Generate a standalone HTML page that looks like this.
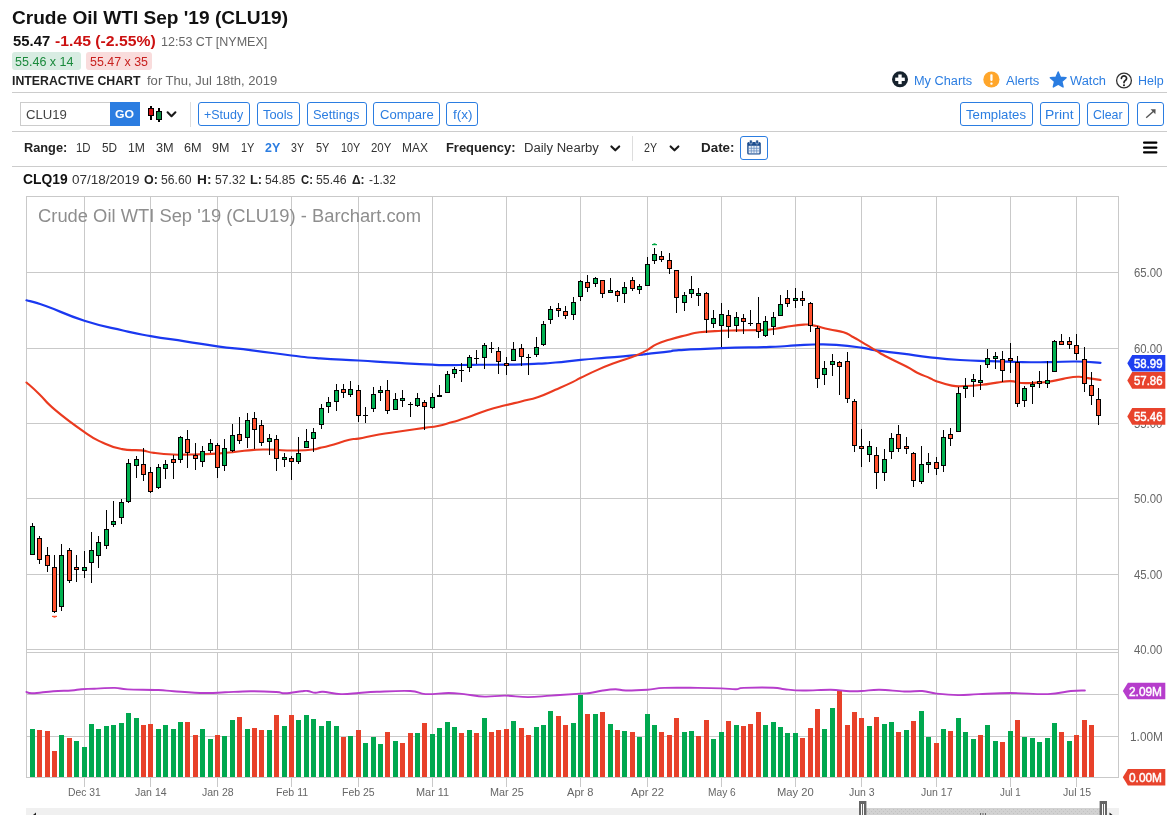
<!DOCTYPE html>
<html><head><meta charset="utf-8"><title>Crude Oil WTI Sep '19 (CLU19) Interactive Chart</title>
<style>
html,body{margin:0;padding:0;background:#fff}
body{width:1171px;height:815px;position:relative;overflow:hidden;font-family:"Liberation Sans", sans-serif;color:#222}
.t{position:absolute;white-space:nowrap;line-height:1;margin:0;padding:0;transform-origin:0 0}
.hr{position:absolute;left:12px;width:1155px;height:1px;background:#ccc}
.btn{position:absolute;box-sizing:border-box;border:1px solid #2b7de1;border-radius:3px;background:#fff;top:102px;height:24px}
.abs{position:absolute}
svg{position:absolute;left:0;top:0;overflow:visible}
#wrap{position:absolute;left:0;top:0;width:1171px;height:815px;will-change:transform}
</style></head><body><div id="wrap">
<div class="abs" style="left:12.2px;top:52.4px;width:68.6px;height:17.2px;background:#d8ece2;border-radius:3px"></div>
<div class="abs" style="left:86.1px;top:52.4px;width:65.6px;height:17.2px;background:#f9dcdc;border-radius:3px"></div>
<div class="hr" style="top:92px"></div>
<div class="hr" style="top:131px"></div>
<div class="hr" style="top:166px"></div>
<div class="abs" style="left:20px;top:102px;width:91px;height:24px;box-sizing:border-box;border:1px solid #ccc;background:#fff"></div>
<div class="abs" style="left:110px;top:102px;width:30px;height:24px;background:#2b7de1"></div>
<div class="abs" style="left:190px;top:102px;width:1px;height:25px;background:#ddd"></div>
<div class="btn" style="left:198px;width:52px"></div>
<div class="btn" style="left:257px;width:43px"></div>
<div class="btn" style="left:307px;width:60px"></div>
<div class="btn" style="left:373px;width:67px"></div>
<div class="btn" style="left:446px;width:32px"></div>
<div class="btn" style="left:960px;width:73px"></div>
<div class="btn" style="left:1040px;width:40px"></div>
<div class="btn" style="left:1087px;width:42px"></div>
<div class="btn" style="left:1137px;width:27px"></div>
<div class="abs" style="left:632px;top:136px;width:1px;height:25px;background:#ddd"></div>
<div class="btn" style="left:740px;top:136px;width:28px;height:24px"></div>
<svg width="1171" height="815" viewBox="0 0 1171 815">
<g shape-rendering="crispEdges">
<rect x="150" y="106" width="2" height="14" fill="#000"/><rect x="148" y="108" width="6" height="8" fill="#000"/><rect x="149" y="109" width="4" height="6" fill="#d41111"/>
<rect x="158" y="108" width="2" height="14" fill="#000"/><rect x="156" y="111" width="6" height="9" fill="#000"/><rect x="157" y="112" width="4" height="7" fill="#0a8a43"/>
</g>
<path d="M167.6 112.3 l3.9 3.9 l3.9 -3.9" fill="none" stroke="#1a1a1a" stroke-width="2.1" stroke-linecap="round" stroke-linejoin="round"/>
<path d="M611.4 146.4 l3.9 3.9 l3.9 -3.9" fill="none" stroke="#1a1a1a" stroke-width="2.1" stroke-linecap="round" stroke-linejoin="round"/>
<path d="M670.6 146.4 l3.9 3.9 l3.9 -3.9" fill="none" stroke="#1a1a1a" stroke-width="2.1" stroke-linecap="round" stroke-linejoin="round"/>
<circle cx="900" cy="79.3" r="8" fill="#16222d"/><rect x="895.2" y="77.6" width="9.6" height="3.4" fill="#fff"/><rect x="898.3" y="74.5" width="3.4" height="9.6" fill="#fff"/>
<circle cx="991.4" cy="79.5" r="8.1" fill="#ffa62b"/><rect x="990.3" y="74.3" width="2.3" height="6.6" rx="0.8" fill="#fff"/><rect x="990.3" y="82.4" width="2.3" height="2.4" rx="0.8" fill="#fff"/>
<polygon points="1058.20,72.00 1060.43,77.23 1066.09,77.74 1061.81,81.47 1063.08,87.01 1058.20,84.10 1053.32,87.01 1054.59,81.47 1050.31,77.74 1055.97,77.23" fill="#2b7de1" stroke="#2b7de1" stroke-width="1.4" stroke-linejoin="round"/>
<circle cx="1124" cy="80.5" r="7.4" fill="#fff" stroke="#333" stroke-width="1.3"/>
<path d="M1121.4 78.3 a2.6 2.5 0 1 1 3.9 2.2 c-1 .6 -1.3 1.1 -1.3 2.1" fill="none" stroke="#222" stroke-width="1.7" stroke-linecap="round"/><circle cx="1124" cy="85.2" r="1.05" fill="#222"/>
<path d="M1146.2 117.8 L1154.6 110.2" stroke="#555" stroke-width="1.4" fill="none"/><path d="M1150.6 109.3 L1155.6 109.2 L1155.4 114.2 Z" fill="#555"/>
<rect x="1143" y="141.5" width="14.4" height="2.3" rx="1" fill="#000"/>
<rect x="1143" y="146.4" width="14.4" height="2.3" rx="1" fill="#000"/>
<rect x="1143" y="151.3" width="14.4" height="2.3" rx="1" fill="#000"/>
<g><rect x="747.2" y="142" width="13.6" height="12.6" rx="1.6" fill="#1d4e8f"/><rect x="748.6" y="145.8" width="10.8" height="7.6" fill="#e9eff7"/><path d="M751.3 145.8v7.6M754 145.8v7.6M756.7 145.8v7.6M748.6 148.3h10.8M748.6 150.9h10.8" stroke="#5c86bd" stroke-width="0.7" fill="none"/><rect x="749.6" y="140" width="2.6" height="4" rx="1.1" fill="#1d4e8f" stroke="#fff" stroke-width="0.5"/><rect x="755.8" y="140" width="2.6" height="4" rx="1.1" fill="#1d4e8f" stroke="#fff" stroke-width="0.5"/></g>
<g shape-rendering="crispEdges" stroke="#c9c9c9" stroke-width="1" fill="none">
<path d="M84.5 196.5V649.5M84.5 652.5V786.5"/>
<path d="M150.5 196.5V649.5M150.5 652.5V786.5"/>
<path d="M217.5 196.5V649.5M217.5 652.5V786.5"/>
<path d="M291.5 196.5V649.5M291.5 652.5V786.5"/>
<path d="M358.5 196.5V649.5M358.5 652.5V786.5"/>
<path d="M432.5 196.5V649.5M432.5 652.5V786.5"/>
<path d="M506.5 196.5V649.5M506.5 652.5V786.5"/>
<path d="M580.5 196.5V649.5M580.5 652.5V786.5"/>
<path d="M647.5 196.5V649.5M647.5 652.5V786.5"/>
<path d="M721.5 196.5V649.5M721.5 652.5V786.5"/>
<path d="M795.5 196.5V649.5M795.5 652.5V786.5"/>
<path d="M861.5 196.5V649.5M861.5 652.5V786.5"/>
<path d="M936.5 196.5V649.5M936.5 652.5V786.5"/>
<path d="M1010.5 196.5V649.5M1010.5 652.5V786.5"/>
<path d="M1076.5 196.5V649.5M1076.5 652.5V786.5"/>
<path d="M26.5 272.5H1118.5"/>
<path d="M26.5 348.5H1118.5"/>
<path d="M26.5 423.5H1118.5"/>
<path d="M26.5 498.5H1118.5"/>
<path d="M26.5 574.5H1118.5"/>
<path d="M26.5 694.5H1118.5"/>
<path d="M26.5 736.5H1118.5"/>
<path d="M26.5 196.5H1118.5V649.5H26.5Z"/>
<path d="M26.5 652.5H1118.5V777.5H26.5Z"/>
<path d="M26.5 649.5V652.5M1118.5 649.5V652.5"/>
</g>
<g shape-rendering="crispEdges">
<rect x="30" y="729" width="5" height="48" fill="#00a84f"/>
<rect x="37" y="730" width="5" height="47" fill="#e8412a"/>
<rect x="45" y="731" width="5" height="46" fill="#e8412a"/>
<rect x="52" y="751" width="5" height="26" fill="#e8412a"/>
<rect x="59" y="735" width="5" height="42" fill="#00a84f"/>
<rect x="67" y="738" width="5" height="39" fill="#e8412a"/>
<rect x="74" y="741" width="5" height="36" fill="#00a84f"/>
<rect x="82" y="747" width="5" height="30" fill="#00a84f"/>
<rect x="89" y="724" width="5" height="53" fill="#00a84f"/>
<rect x="96" y="729" width="5" height="48" fill="#00a84f"/>
<rect x="104" y="726" width="5" height="51" fill="#00a84f"/>
<rect x="111" y="725" width="5" height="52" fill="#00a84f"/>
<rect x="119" y="723" width="5" height="54" fill="#00a84f"/>
<rect x="126" y="713" width="5" height="64" fill="#00a84f"/>
<rect x="134" y="718" width="5" height="59" fill="#00a84f"/>
<rect x="141" y="725" width="5" height="52" fill="#e8412a"/>
<rect x="148" y="724" width="5" height="53" fill="#e8412a"/>
<rect x="156" y="729" width="5" height="48" fill="#00a84f"/>
<rect x="163" y="725" width="5" height="52" fill="#00a84f"/>
<rect x="171" y="729" width="5" height="48" fill="#00a84f"/>
<rect x="178" y="722" width="5" height="55" fill="#00a84f"/>
<rect x="185" y="722" width="5" height="55" fill="#e8412a"/>
<rect x="193" y="735" width="5" height="42" fill="#e8412a"/>
<rect x="200" y="729" width="5" height="48" fill="#00a84f"/>
<rect x="208" y="739" width="5" height="38" fill="#00a84f"/>
<rect x="215" y="735" width="5" height="42" fill="#e8412a"/>
<rect x="222" y="736" width="5" height="41" fill="#00a84f"/>
<rect x="230" y="720" width="5" height="57" fill="#00a84f"/>
<rect x="237" y="717" width="5" height="60" fill="#e8412a"/>
<rect x="245" y="729" width="5" height="48" fill="#00a84f"/>
<rect x="252" y="728" width="5" height="49" fill="#e8412a"/>
<rect x="259" y="730" width="5" height="47" fill="#e8412a"/>
<rect x="267" y="730" width="5" height="47" fill="#00a84f"/>
<rect x="274" y="715" width="5" height="62" fill="#e8412a"/>
<rect x="282" y="726" width="5" height="51" fill="#00a84f"/>
<rect x="289" y="715" width="5" height="62" fill="#e8412a"/>
<rect x="296" y="720" width="5" height="57" fill="#00a84f"/>
<rect x="304" y="715" width="5" height="62" fill="#00a84f"/>
<rect x="311" y="719" width="5" height="58" fill="#00a84f"/>
<rect x="319" y="726" width="5" height="51" fill="#00a84f"/>
<rect x="326" y="721" width="5" height="56" fill="#00a84f"/>
<rect x="334" y="726" width="5" height="51" fill="#00a84f"/>
<rect x="341" y="737" width="5" height="40" fill="#e8412a"/>
<rect x="348" y="736" width="5" height="41" fill="#00a84f"/>
<rect x="356" y="730" width="5" height="47" fill="#e8412a"/>
<rect x="363" y="743" width="5" height="34" fill="#00a84f"/>
<rect x="371" y="737" width="5" height="40" fill="#00a84f"/>
<rect x="378" y="744" width="5" height="33" fill="#00a84f"/>
<rect x="385" y="732" width="5" height="45" fill="#e8412a"/>
<rect x="393" y="741" width="5" height="36" fill="#00a84f"/>
<rect x="400" y="743" width="5" height="34" fill="#e8412a"/>
<rect x="408" y="733" width="5" height="44" fill="#e8412a"/>
<rect x="415" y="733" width="5" height="44" fill="#00a84f"/>
<rect x="422" y="723" width="5" height="54" fill="#e8412a"/>
<rect x="430" y="734" width="5" height="43" fill="#00a84f"/>
<rect x="437" y="728" width="5" height="49" fill="#00a84f"/>
<rect x="445" y="722" width="5" height="55" fill="#00a84f"/>
<rect x="452" y="727" width="5" height="50" fill="#00a84f"/>
<rect x="459" y="733" width="5" height="44" fill="#e8412a"/>
<rect x="467" y="730" width="5" height="47" fill="#00a84f"/>
<rect x="474" y="733" width="5" height="44" fill="#e8412a"/>
<rect x="482" y="718" width="5" height="59" fill="#00a84f"/>
<rect x="489" y="732" width="5" height="45" fill="#e8412a"/>
<rect x="496" y="730" width="5" height="47" fill="#e8412a"/>
<rect x="504" y="729" width="5" height="48" fill="#e8412a"/>
<rect x="511" y="721" width="5" height="56" fill="#00a84f"/>
<rect x="519" y="728" width="5" height="49" fill="#e8412a"/>
<rect x="526" y="735" width="5" height="42" fill="#e8412a"/>
<rect x="534" y="727" width="5" height="50" fill="#00a84f"/>
<rect x="541" y="725" width="5" height="52" fill="#00a84f"/>
<rect x="548" y="711" width="5" height="66" fill="#00a84f"/>
<rect x="556" y="716" width="5" height="61" fill="#e8412a"/>
<rect x="563" y="725" width="5" height="52" fill="#e8412a"/>
<rect x="571" y="723" width="5" height="54" fill="#00a84f"/>
<rect x="578" y="695" width="5" height="82" fill="#00a84f"/>
<rect x="585" y="714" width="5" height="63" fill="#e8412a"/>
<rect x="593" y="714" width="5" height="63" fill="#00a84f"/>
<rect x="600" y="712" width="5" height="65" fill="#e8412a"/>
<rect x="608" y="724" width="5" height="53" fill="#00a84f"/>
<rect x="615" y="730" width="5" height="47" fill="#e8412a"/>
<rect x="622" y="731" width="5" height="46" fill="#00a84f"/>
<rect x="630" y="732" width="5" height="45" fill="#e8412a"/>
<rect x="637" y="737" width="5" height="40" fill="#00a84f"/>
<rect x="645" y="714" width="5" height="63" fill="#00a84f"/>
<rect x="652" y="725" width="5" height="52" fill="#00a84f"/>
<rect x="659" y="732" width="5" height="45" fill="#e8412a"/>
<rect x="667" y="735" width="5" height="42" fill="#e8412a"/>
<rect x="674" y="718" width="5" height="59" fill="#e8412a"/>
<rect x="682" y="732" width="5" height="45" fill="#00a84f"/>
<rect x="689" y="731" width="5" height="46" fill="#00a84f"/>
<rect x="696" y="736" width="5" height="41" fill="#e8412a"/>
<rect x="704" y="720" width="5" height="57" fill="#e8412a"/>
<rect x="711" y="739" width="5" height="38" fill="#00a84f"/>
<rect x="719" y="732" width="5" height="45" fill="#00a84f"/>
<rect x="726" y="721" width="5" height="56" fill="#e8412a"/>
<rect x="734" y="725" width="5" height="52" fill="#00a84f"/>
<rect x="741" y="726" width="5" height="51" fill="#e8412a"/>
<rect x="748" y="724" width="5" height="53" fill="#e8412a"/>
<rect x="756" y="712" width="5" height="65" fill="#e8412a"/>
<rect x="763" y="725" width="5" height="52" fill="#00a84f"/>
<rect x="771" y="722" width="5" height="55" fill="#00a84f"/>
<rect x="778" y="727" width="5" height="50" fill="#00a84f"/>
<rect x="785" y="733" width="5" height="44" fill="#00a84f"/>
<rect x="793" y="733" width="5" height="44" fill="#00a84f"/>
<rect x="800" y="738" width="5" height="39" fill="#e8412a"/>
<rect x="808" y="728" width="5" height="49" fill="#e8412a"/>
<rect x="815" y="709" width="5" height="68" fill="#e8412a"/>
<rect x="822" y="729" width="5" height="48" fill="#00a84f"/>
<rect x="830" y="708" width="5" height="69" fill="#00a84f"/>
<rect x="837" y="691" width="5" height="86" fill="#e8412a"/>
<rect x="845" y="725" width="5" height="52" fill="#e8412a"/>
<rect x="852" y="712" width="5" height="65" fill="#e8412a"/>
<rect x="859" y="718" width="5" height="59" fill="#e8412a"/>
<rect x="867" y="726" width="5" height="51" fill="#00a84f"/>
<rect x="874" y="717" width="5" height="60" fill="#e8412a"/>
<rect x="882" y="724" width="5" height="53" fill="#00a84f"/>
<rect x="889" y="722" width="5" height="55" fill="#00a84f"/>
<rect x="896" y="732" width="5" height="45" fill="#e8412a"/>
<rect x="904" y="730" width="5" height="47" fill="#00a84f"/>
<rect x="911" y="721" width="5" height="56" fill="#e8412a"/>
<rect x="919" y="711" width="5" height="66" fill="#00a84f"/>
<rect x="926" y="737" width="5" height="40" fill="#00a84f"/>
<rect x="934" y="743" width="5" height="34" fill="#e8412a"/>
<rect x="941" y="729" width="5" height="48" fill="#00a84f"/>
<rect x="948" y="731" width="5" height="46" fill="#e8412a"/>
<rect x="956" y="718" width="5" height="59" fill="#00a84f"/>
<rect x="963" y="732" width="5" height="45" fill="#00a84f"/>
<rect x="971" y="739" width="5" height="38" fill="#00a84f"/>
<rect x="978" y="735" width="5" height="42" fill="#e8412a"/>
<rect x="985" y="725" width="5" height="52" fill="#00a84f"/>
<rect x="993" y="741" width="5" height="36" fill="#00a84f"/>
<rect x="1000" y="742" width="5" height="35" fill="#e8412a"/>
<rect x="1008" y="731" width="5" height="46" fill="#00a84f"/>
<rect x="1015" y="720" width="5" height="57" fill="#e8412a"/>
<rect x="1022" y="737" width="5" height="40" fill="#00a84f"/>
<rect x="1030" y="738" width="5" height="39" fill="#00a84f"/>
<rect x="1037" y="742" width="5" height="35" fill="#00a84f"/>
<rect x="1045" y="738" width="5" height="39" fill="#00a84f"/>
<rect x="1052" y="723" width="5" height="54" fill="#00a84f"/>
<rect x="1059" y="732" width="5" height="45" fill="#e8412a"/>
<rect x="1067" y="741" width="5" height="36" fill="#00a84f"/>
<rect x="1074" y="735" width="5" height="42" fill="#e8412a"/>
<rect x="1082" y="720" width="5" height="57" fill="#e8412a"/>
<rect x="1089" y="725" width="5" height="52" fill="#e8412a"/>
</g>
<path d="M26.4 692.0C27.7 692.3 27.4 693.5 32.8 693.3C38.2 693.1 45.6 691.8 53.3 691.2C61.0 690.6 65.6 690.9 71.2 690.5C76.8 690.1 76.9 689.6 81.5 689.2C86.1 688.8 87.6 689.0 94.3 688.7C101.0 688.4 108.1 687.8 114.8 687.9C121.5 688.0 118.9 689.0 127.6 689.4C136.3 689.8 149.2 689.6 158.4 690.0C167.6 690.4 164.5 690.6 173.7 691.2C182.9 691.8 194.2 692.8 204.5 693.0C214.8 693.2 215.8 692.7 225.0 692.3C234.2 691.9 240.4 691.3 250.6 691.2C260.8 691.1 269.3 691.6 276.2 692.0C283.1 692.4 280.1 693.5 285.2 693.3C290.3 693.1 297.3 691.7 301.8 691.2C306.3 690.7 305.0 690.7 307.7 691.0C310.4 691.3 312.3 692.6 315.4 692.8C318.5 693.0 317.9 691.5 323.0 691.8C328.1 692.1 333.8 693.9 341.0 694.1C348.2 694.3 351.7 693.5 358.9 693.0C366.1 692.5 366.6 692.2 376.9 691.8C387.2 691.4 400.5 690.5 410.2 691.0C419.9 691.5 417.8 693.7 425.5 694.1C433.2 694.5 440.9 693.0 448.6 693.0C456.3 693.0 456.8 693.4 464.0 694.1C471.2 694.8 476.3 696.3 484.5 696.6C492.7 696.9 496.3 695.5 505.0 695.6C513.7 695.7 518.8 697.1 528.0 697.1C537.2 697.1 540.6 696.3 551.1 695.6C561.6 694.9 572.7 694.1 580.5 693.6C588.3 693.1 585.5 693.6 590.0 693.0C594.5 692.4 597.7 691.3 602.8 690.5C607.9 689.7 611.0 689.2 615.6 689.2C620.2 689.2 619.5 690.4 625.9 690.5C632.3 690.6 639.7 690.2 647.4 689.7C655.1 689.2 654.3 688.3 664.3 687.9C674.3 687.5 686.2 687.8 697.6 687.9C709.0 688.0 713.7 688.1 721.4 688.4C729.1 688.7 731.5 689.3 736.0 689.2C740.5 689.1 736.3 688.2 743.7 687.9C751.1 687.6 765.0 687.4 773.2 687.7C781.4 688.0 778.8 688.6 784.7 689.2C790.6 689.8 793.5 690.4 802.7 690.5C811.9 690.6 822.1 689.6 830.8 689.7C839.5 689.8 840.0 690.7 846.2 691.0C852.4 691.3 854.9 691.3 861.6 691.0C868.3 690.7 871.0 689.6 879.5 689.7C888.0 689.8 895.8 691.2 904.3 691.5C912.8 691.8 915.7 690.6 922.2 691.0C928.7 691.4 929.4 692.8 936.6 693.6C943.8 694.4 949.7 695.0 958.1 695.1C966.5 695.2 968.1 694.5 978.6 694.1C989.1 693.7 996.8 693.0 1010.6 693.0C1024.4 693.0 1035.8 694.5 1047.8 694.1C1059.8 693.7 1063.4 691.7 1070.8 691.0C1078.2 690.3 1082.1 690.6 1084.9 690.5" fill="none" stroke="#b63dcc" stroke-width="1.9" stroke-linejoin="round" stroke-linecap="round"/>
<path d="M26.5 300.3C31.6 301.8 30.4 300.6 45.8 306.0C61.2 311.4 63.8 314.2 84.4 320.7C105.0 327.2 105.3 326.4 123.0 330.5C140.7 334.6 134.2 333.2 150.7 336.1C167.2 339.0 167.2 338.6 185.0 341.3C202.8 344.0 199.5 344.0 217.4 346.4C235.3 348.8 232.3 347.9 252.0 350.3C271.7 352.7 273.3 353.3 291.4 355.5C309.5 357.7 302.1 357.1 320.0 358.4C337.9 359.7 339.0 359.4 358.6 360.5C378.2 361.6 373.9 361.6 393.6 362.7C413.3 363.8 416.9 364.1 432.6 364.7C448.3 365.3 442.5 365.1 452.5 365.1C462.5 365.1 455.6 364.9 470.0 364.8C484.4 364.7 488.2 364.9 506.4 364.6C524.6 364.3 525.2 364.2 538.3 363.6C551.4 363.0 544.1 363.5 555.4 362.5C566.7 361.5 567.0 361.2 580.7 359.9C594.4 358.6 591.7 358.9 606.6 357.6C621.5 356.3 625.6 356.2 636.5 355.2C647.4 354.2 638.7 354.8 647.6 353.8C656.5 352.8 661.7 352.3 670.0 351.3C678.3 350.3 665.1 351.0 678.9 350.2C692.7 349.4 697.3 349.1 721.6 348.2C745.9 347.3 750.3 347.6 770.0 346.9C789.7 346.2 783.8 346.0 795.6 345.4C807.4 344.8 803.4 344.6 814.2 344.5C825.0 344.4 823.6 344.0 836.2 344.9C848.8 345.8 850.9 346.2 861.5 347.7C872.1 349.2 865.1 348.8 876.0 350.4C886.9 352.0 888.1 351.8 902.5 353.6C916.9 355.4 914.7 355.6 930.0 357.3C945.3 359.0 944.2 359.0 960.0 360.0C975.8 361.0 973.7 360.7 989.4 361.2C1005.1 361.7 1003.2 361.7 1018.9 362.0C1034.6 362.3 1032.9 362.3 1048.3 362.2C1063.7 362.1 1062.7 361.3 1076.6 361.5C1090.5 361.7 1094.1 362.5 1100.5 362.8" fill="none" stroke="#1a38f0" stroke-width="2.2" stroke-linejoin="round" stroke-linecap="round"/>
<path d="M26.5 382.5C29.9 385.5 31.5 386.6 39.1 393.9C46.7 401.2 43.2 399.8 55.1 409.9C67.0 420.0 71.1 422.9 83.8 431.6C96.5 440.3 92.7 438.0 102.9 442.7C113.1 447.4 111.9 447.0 122.1 449.1C132.3 451.2 132.7 449.4 141.2 450.4C149.7 451.4 145.5 451.8 154.0 452.9C162.5 454.0 162.9 454.1 173.1 454.5C183.3 454.9 180.5 454.7 192.2 454.5C203.9 454.3 205.4 454.3 217.1 453.6C228.8 452.9 226.4 452.7 236.2 451.7C246.0 450.7 245.7 450.5 253.9 449.9C262.1 449.3 259.6 449.4 267.1 449.5C274.6 449.6 274.0 449.9 281.9 450.2C289.8 450.5 288.4 450.7 296.6 450.5C304.8 450.3 306.6 450.2 312.8 449.5C319.0 448.8 315.4 448.9 320.0 447.9C324.6 446.9 322.2 447.8 330.0 445.6C337.8 443.4 341.8 441.6 349.4 439.7C357.0 437.8 350.7 440.0 358.6 438.6C366.5 437.2 367.6 436.4 378.9 434.5C390.2 432.6 388.8 433.1 401.0 431.3C413.2 429.5 414.7 429.3 424.5 427.9C434.3 426.5 430.3 427.6 437.8 426.0C445.3 424.4 444.7 424.2 452.5 422.0C460.3 419.8 458.0 420.7 467.2 417.6C476.4 414.5 476.6 413.6 487.1 410.3C497.6 407.0 497.3 407.5 506.4 405.1C515.5 402.7 512.7 403.6 521.2 401.4C529.7 399.2 529.2 400.1 538.3 397.0C547.4 393.9 546.3 393.8 555.4 389.8C564.5 385.8 565.8 385.3 572.5 382.1C579.2 378.9 573.9 381.1 580.7 377.8C587.5 374.5 588.9 373.6 598.1 369.6C607.3 365.6 605.0 366.6 615.2 362.8C625.4 359.0 627.9 358.8 636.5 355.3C645.1 351.8 642.1 352.8 647.5 349.8C652.9 346.8 650.8 346.9 656.8 344.1C662.8 341.3 662.2 341.8 670.0 339.4C677.8 337.0 678.3 337.1 686.2 335.2C694.1 333.3 690.1 333.5 699.5 332.3C708.9 331.1 711.4 331.3 721.6 330.8C731.8 330.3 728.4 330.6 737.8 330.4C747.2 330.2 748.3 330.3 756.9 330.1C765.5 329.9 762.6 330.3 770.0 329.5C777.4 328.7 775.7 328.4 784.7 327.1C793.7 325.8 796.0 325.0 803.9 324.6C811.8 324.2 807.5 324.3 814.2 325.6C820.9 326.9 821.1 327.5 828.9 329.3C836.7 331.1 837.3 330.3 843.6 332.3C849.9 334.3 847.6 334.2 852.4 336.7C857.2 339.2 855.2 338.1 861.5 341.8C867.8 345.5 869.0 346.6 876.0 350.7C883.0 354.8 879.5 353.0 887.7 357.3C895.9 361.6 899.0 362.7 906.9 366.8C914.8 370.9 911.0 369.7 917.2 372.7C923.4 375.7 925.1 376.0 930.0 378.2C934.9 380.4 929.9 378.9 935.7 380.9C941.5 382.9 944.1 384.2 951.9 385.6C959.7 387.0 957.1 386.2 965.1 386.0C973.1 385.8 973.5 385.7 982.0 384.8C990.5 383.9 989.2 383.6 996.8 382.6C1004.4 381.6 1003.8 381.0 1010.5 381.1C1017.2 381.2 1014.9 382.6 1021.8 383.0C1028.7 383.4 1029.4 382.9 1036.5 382.6C1043.6 382.3 1041.2 382.8 1048.3 381.8C1055.4 380.8 1055.2 380.3 1063.0 378.9C1070.8 377.5 1071.0 376.9 1077.7 376.7C1084.4 376.5 1081.9 377.2 1088.0 378.1C1094.1 379.0 1097.2 379.5 1100.5 380.0" fill="none" stroke="#ea3a1f" stroke-width="2.1" stroke-linejoin="round" stroke-linecap="round"/>
<g shape-rendering="crispEdges">
<rect x="32" y="523" width="1" height="32" fill="#000"/>
<rect x="30" y="526" width="5" height="29" fill="#000"/>
<rect x="31" y="527" width="3" height="27" fill="#00b050"/>
<rect x="39" y="536" width="1" height="28" fill="#000"/>
<rect x="37" y="538" width="5" height="22" fill="#000"/>
<rect x="38" y="539" width="3" height="20" fill="#ff502d"/>
<rect x="47" y="547" width="1" height="25" fill="#000"/>
<rect x="45" y="555" width="5" height="11" fill="#000"/>
<rect x="46" y="556" width="3" height="9" fill="#ff502d"/>
<rect x="54" y="555" width="1" height="58" fill="#000"/>
<rect x="52" y="567" width="5" height="45" fill="#000"/>
<rect x="53" y="568" width="3" height="43" fill="#ff502d"/>
<rect x="61" y="544" width="1" height="67" fill="#000"/>
<rect x="59" y="555" width="5" height="52" fill="#000"/>
<rect x="60" y="556" width="3" height="50" fill="#00b050"/>
<rect x="69" y="548" width="1" height="35" fill="#000"/>
<rect x="67" y="550" width="5" height="31" fill="#000"/>
<rect x="68" y="551" width="3" height="29" fill="#ff502d"/>
<rect x="76" y="555" width="1" height="27" fill="#000"/>
<rect x="74" y="567" width="5" height="3" fill="#000"/>
<rect x="75" y="568" width="3" height="1" fill="#ff502d"/>
<rect x="84" y="551" width="1" height="27" fill="#000"/>
<rect x="82" y="567" width="5" height="4" fill="#000"/>
<rect x="83" y="568" width="3" height="2" fill="#00b050"/>
<rect x="91" y="532" width="1" height="51" fill="#000"/>
<rect x="89" y="550" width="5" height="13" fill="#000"/>
<rect x="90" y="551" width="3" height="11" fill="#00b050"/>
<rect x="98" y="536" width="1" height="32" fill="#000"/>
<rect x="96" y="542" width="5" height="14" fill="#000"/>
<rect x="97" y="543" width="3" height="12" fill="#00b050"/>
<rect x="106" y="510" width="1" height="39" fill="#000"/>
<rect x="104" y="529" width="5" height="17" fill="#000"/>
<rect x="105" y="530" width="3" height="15" fill="#00b050"/>
<rect x="113" y="501" width="1" height="26" fill="#000"/>
<rect x="111" y="521" width="5" height="4" fill="#000"/>
<rect x="112" y="522" width="3" height="2" fill="#00b050"/>
<rect x="121" y="499" width="1" height="25" fill="#000"/>
<rect x="119" y="502" width="5" height="16" fill="#000"/>
<rect x="120" y="503" width="3" height="14" fill="#00b050"/>
<rect x="128" y="459" width="1" height="44" fill="#000"/>
<rect x="126" y="463" width="5" height="39" fill="#000"/>
<rect x="127" y="464" width="3" height="37" fill="#00b050"/>
<rect x="136" y="456" width="1" height="22" fill="#000"/>
<rect x="134" y="459" width="5" height="7" fill="#000"/>
<rect x="135" y="460" width="3" height="5" fill="#00b050"/>
<rect x="143" y="448" width="1" height="33" fill="#000"/>
<rect x="141" y="464" width="5" height="11" fill="#000"/>
<rect x="142" y="465" width="3" height="9" fill="#ff502d"/>
<rect x="150" y="467" width="1" height="26" fill="#000"/>
<rect x="148" y="472" width="5" height="20" fill="#000"/>
<rect x="149" y="473" width="3" height="18" fill="#ff502d"/>
<rect x="158" y="464" width="1" height="25" fill="#000"/>
<rect x="156" y="467" width="5" height="21" fill="#000"/>
<rect x="157" y="468" width="3" height="19" fill="#00b050"/>
<rect x="165" y="460" width="1" height="19" fill="#000"/>
<rect x="163" y="464" width="5" height="5" fill="#000"/>
<rect x="164" y="465" width="3" height="3" fill="#00b050"/>
<rect x="173" y="455" width="1" height="24" fill="#000"/>
<rect x="171" y="459" width="5" height="4" fill="#000"/>
<rect x="172" y="460" width="3" height="2" fill="#ff502d"/>
<rect x="180" y="436" width="1" height="27" fill="#000"/>
<rect x="178" y="437" width="5" height="23" fill="#000"/>
<rect x="179" y="438" width="3" height="21" fill="#00b050"/>
<rect x="187" y="430" width="1" height="38" fill="#000"/>
<rect x="185" y="439" width="5" height="14" fill="#000"/>
<rect x="186" y="440" width="3" height="12" fill="#ff502d"/>
<rect x="195" y="443" width="1" height="27" fill="#000"/>
<rect x="193" y="455" width="5" height="4" fill="#000"/>
<rect x="194" y="456" width="3" height="2" fill="#ff502d"/>
<rect x="202" y="446" width="1" height="21" fill="#000"/>
<rect x="200" y="451" width="5" height="11" fill="#000"/>
<rect x="201" y="452" width="3" height="9" fill="#00b050"/>
<rect x="210" y="439" width="1" height="14" fill="#000"/>
<rect x="208" y="443" width="5" height="8" fill="#000"/>
<rect x="209" y="444" width="3" height="6" fill="#00b050"/>
<rect x="217" y="443" width="1" height="35" fill="#000"/>
<rect x="215" y="445" width="5" height="23" fill="#000"/>
<rect x="216" y="446" width="3" height="21" fill="#ff502d"/>
<rect x="224" y="439" width="1" height="32" fill="#000"/>
<rect x="222" y="448" width="5" height="18" fill="#000"/>
<rect x="223" y="449" width="3" height="16" fill="#00b050"/>
<rect x="232" y="424" width="1" height="28" fill="#000"/>
<rect x="230" y="435" width="5" height="16" fill="#000"/>
<rect x="231" y="436" width="3" height="14" fill="#00b050"/>
<rect x="239" y="417" width="1" height="27" fill="#000"/>
<rect x="237" y="434" width="5" height="7" fill="#000"/>
<rect x="238" y="435" width="3" height="5" fill="#ff502d"/>
<rect x="247" y="413" width="1" height="35" fill="#000"/>
<rect x="245" y="420" width="5" height="18" fill="#000"/>
<rect x="246" y="421" width="3" height="16" fill="#00b050"/>
<rect x="254" y="412" width="1" height="37" fill="#000"/>
<rect x="252" y="418" width="5" height="12" fill="#000"/>
<rect x="253" y="419" width="3" height="10" fill="#ff502d"/>
<rect x="261" y="420" width="1" height="26" fill="#000"/>
<rect x="259" y="425" width="5" height="18" fill="#000"/>
<rect x="260" y="426" width="3" height="16" fill="#ff502d"/>
<rect x="269" y="434" width="1" height="21" fill="#000"/>
<rect x="267" y="438" width="5" height="4" fill="#000"/>
<rect x="268" y="439" width="3" height="2" fill="#00b050"/>
<rect x="276" y="435" width="1" height="36" fill="#000"/>
<rect x="274" y="439" width="5" height="20" fill="#000"/>
<rect x="275" y="440" width="3" height="18" fill="#ff502d"/>
<rect x="284" y="453" width="1" height="14" fill="#000"/>
<rect x="282" y="457" width="5" height="3" fill="#000"/>
<rect x="283" y="458" width="3" height="1" fill="#00b050"/>
<rect x="291" y="456" width="1" height="24" fill="#000"/>
<rect x="289" y="458" width="5" height="4" fill="#000"/>
<rect x="290" y="459" width="3" height="2" fill="#ff502d"/>
<rect x="298" y="437" width="1" height="27" fill="#000"/>
<rect x="296" y="453" width="5" height="9" fill="#000"/>
<rect x="297" y="454" width="3" height="7" fill="#00b050"/>
<rect x="306" y="429" width="1" height="19" fill="#000"/>
<rect x="304" y="441" width="5" height="7" fill="#000"/>
<rect x="305" y="442" width="3" height="5" fill="#00b050"/>
<rect x="313" y="428" width="1" height="24" fill="#000"/>
<rect x="311" y="432" width="5" height="7" fill="#000"/>
<rect x="312" y="433" width="3" height="5" fill="#00b050"/>
<rect x="321" y="404" width="1" height="25" fill="#000"/>
<rect x="319" y="408" width="5" height="17" fill="#000"/>
<rect x="320" y="409" width="3" height="15" fill="#00b050"/>
<rect x="328" y="397" width="1" height="16" fill="#000"/>
<rect x="326" y="402" width="5" height="5" fill="#000"/>
<rect x="327" y="403" width="3" height="3" fill="#00b050"/>
<rect x="336" y="384" width="1" height="27" fill="#000"/>
<rect x="334" y="390" width="5" height="12" fill="#000"/>
<rect x="335" y="391" width="3" height="10" fill="#00b050"/>
<rect x="343" y="384" width="1" height="14" fill="#000"/>
<rect x="341" y="389" width="5" height="4" fill="#000"/>
<rect x="342" y="390" width="3" height="2" fill="#ff502d"/>
<rect x="350" y="381" width="1" height="16" fill="#000"/>
<rect x="348" y="389" width="5" height="6" fill="#000"/>
<rect x="349" y="390" width="3" height="4" fill="#00b050"/>
<rect x="358" y="385" width="1" height="37" fill="#000"/>
<rect x="356" y="390" width="5" height="26" fill="#000"/>
<rect x="357" y="391" width="3" height="24" fill="#ff502d"/>
<rect x="365" y="407" width="1" height="16" fill="#000"/>
<rect x="363" y="415" width="5" height="1" fill="#000"/>
<rect x="373" y="387" width="1" height="25" fill="#000"/>
<rect x="371" y="394" width="5" height="15" fill="#000"/>
<rect x="372" y="395" width="3" height="13" fill="#00b050"/>
<rect x="380" y="386" width="1" height="15" fill="#000"/>
<rect x="378" y="390" width="5" height="3" fill="#000"/>
<rect x="379" y="391" width="3" height="1" fill="#00b050"/>
<rect x="387" y="380" width="1" height="34" fill="#000"/>
<rect x="385" y="390" width="5" height="21" fill="#000"/>
<rect x="386" y="391" width="3" height="19" fill="#ff502d"/>
<rect x="395" y="393" width="1" height="17" fill="#000"/>
<rect x="393" y="399" width="5" height="11" fill="#000"/>
<rect x="394" y="400" width="3" height="9" fill="#00b050"/>
<rect x="402" y="390" width="1" height="17" fill="#000"/>
<rect x="400" y="398" width="5" height="3" fill="#000"/>
<rect x="401" y="399" width="3" height="1" fill="#00b050"/>
<rect x="410" y="402" width="1" height="15" fill="#000"/>
<rect x="408" y="404" width="5" height="1" fill="#000"/>
<rect x="417" y="393" width="1" height="14" fill="#000"/>
<rect x="415" y="398" width="5" height="8" fill="#000"/>
<rect x="416" y="399" width="3" height="6" fill="#00b050"/>
<rect x="424" y="400" width="1" height="30" fill="#000"/>
<rect x="422" y="402" width="5" height="5" fill="#000"/>
<rect x="423" y="403" width="3" height="3" fill="#ff502d"/>
<rect x="432" y="393" width="1" height="16" fill="#000"/>
<rect x="430" y="397" width="5" height="11" fill="#000"/>
<rect x="431" y="398" width="3" height="9" fill="#00b050"/>
<rect x="439" y="385" width="1" height="12" fill="#000"/>
<rect x="437" y="395" width="5" height="2" fill="#000"/>
<rect x="447" y="371" width="1" height="22" fill="#000"/>
<rect x="445" y="374" width="5" height="19" fill="#000"/>
<rect x="446" y="375" width="3" height="17" fill="#00b050"/>
<rect x="454" y="367" width="1" height="11" fill="#000"/>
<rect x="452" y="369" width="5" height="5" fill="#000"/>
<rect x="453" y="370" width="3" height="3" fill="#00b050"/>
<rect x="461" y="363" width="1" height="19" fill="#000"/>
<rect x="459" y="370" width="5" height="1" fill="#000"/>
<rect x="469" y="355" width="1" height="17" fill="#000"/>
<rect x="467" y="357" width="5" height="11" fill="#000"/>
<rect x="468" y="358" width="3" height="9" fill="#00b050"/>
<rect x="476" y="350" width="1" height="14" fill="#000"/>
<rect x="474" y="358" width="5" height="1" fill="#000"/>
<rect x="484" y="343" width="1" height="26" fill="#000"/>
<rect x="482" y="345" width="5" height="13" fill="#000"/>
<rect x="483" y="346" width="3" height="11" fill="#00b050"/>
<rect x="491" y="342" width="1" height="11" fill="#000"/>
<rect x="489" y="348" width="5" height="1" fill="#000"/>
<rect x="498" y="347" width="1" height="27" fill="#000"/>
<rect x="496" y="351" width="5" height="11" fill="#000"/>
<rect x="497" y="352" width="3" height="9" fill="#ff502d"/>
<rect x="506" y="357" width="1" height="18" fill="#000"/>
<rect x="504" y="363" width="5" height="3" fill="#000"/>
<rect x="505" y="364" width="3" height="1" fill="#ff502d"/>
<rect x="513" y="342" width="1" height="19" fill="#000"/>
<rect x="511" y="349" width="5" height="12" fill="#000"/>
<rect x="512" y="350" width="3" height="10" fill="#00b050"/>
<rect x="521" y="344" width="1" height="22" fill="#000"/>
<rect x="519" y="348" width="5" height="9" fill="#000"/>
<rect x="520" y="349" width="3" height="7" fill="#ff502d"/>
<rect x="528" y="354" width="1" height="21" fill="#000"/>
<rect x="526" y="357" width="5" height="1" fill="#000"/>
<rect x="536" y="337" width="1" height="20" fill="#000"/>
<rect x="534" y="347" width="5" height="8" fill="#000"/>
<rect x="535" y="348" width="3" height="6" fill="#00b050"/>
<rect x="543" y="321" width="1" height="25" fill="#000"/>
<rect x="541" y="324" width="5" height="21" fill="#000"/>
<rect x="542" y="325" width="3" height="19" fill="#00b050"/>
<rect x="550" y="306" width="1" height="18" fill="#000"/>
<rect x="548" y="309" width="5" height="11" fill="#000"/>
<rect x="549" y="310" width="3" height="9" fill="#00b050"/>
<rect x="558" y="303" width="1" height="14" fill="#000"/>
<rect x="556" y="308" width="5" height="3" fill="#000"/>
<rect x="557" y="309" width="3" height="1" fill="#ff502d"/>
<rect x="565" y="306" width="1" height="13" fill="#000"/>
<rect x="563" y="311" width="5" height="5" fill="#000"/>
<rect x="564" y="312" width="3" height="3" fill="#ff502d"/>
<rect x="573" y="297" width="1" height="23" fill="#000"/>
<rect x="571" y="302" width="5" height="13" fill="#000"/>
<rect x="572" y="303" width="3" height="11" fill="#00b050"/>
<rect x="580" y="280" width="1" height="21" fill="#000"/>
<rect x="578" y="281" width="5" height="16" fill="#000"/>
<rect x="579" y="282" width="3" height="14" fill="#00b050"/>
<rect x="587" y="275" width="1" height="17" fill="#000"/>
<rect x="585" y="282" width="5" height="6" fill="#000"/>
<rect x="586" y="283" width="3" height="4" fill="#ff502d"/>
<rect x="595" y="277" width="1" height="10" fill="#000"/>
<rect x="593" y="278" width="5" height="6" fill="#000"/>
<rect x="594" y="279" width="3" height="4" fill="#00b050"/>
<rect x="602" y="280" width="1" height="18" fill="#000"/>
<rect x="600" y="280" width="5" height="14" fill="#000"/>
<rect x="601" y="281" width="3" height="12" fill="#ff502d"/>
<rect x="610" y="278" width="1" height="14" fill="#000"/>
<rect x="608" y="290" width="5" height="3" fill="#000"/>
<rect x="609" y="291" width="3" height="1" fill="#00b050"/>
<rect x="617" y="290" width="1" height="12" fill="#000"/>
<rect x="615" y="291" width="5" height="5" fill="#000"/>
<rect x="616" y="292" width="3" height="3" fill="#ff502d"/>
<rect x="624" y="282" width="1" height="21" fill="#000"/>
<rect x="622" y="287" width="5" height="7" fill="#000"/>
<rect x="623" y="288" width="3" height="5" fill="#00b050"/>
<rect x="632" y="277" width="1" height="14" fill="#000"/>
<rect x="630" y="280" width="5" height="9" fill="#000"/>
<rect x="631" y="281" width="3" height="7" fill="#ff502d"/>
<rect x="639" y="284" width="1" height="10" fill="#000"/>
<rect x="637" y="286" width="5" height="4" fill="#000"/>
<rect x="638" y="287" width="3" height="2" fill="#00b050"/>
<rect x="647" y="257" width="1" height="29" fill="#000"/>
<rect x="645" y="264" width="5" height="22" fill="#000"/>
<rect x="646" y="265" width="3" height="20" fill="#00b050"/>
<rect x="654" y="248" width="1" height="16" fill="#000"/>
<rect x="652" y="254" width="5" height="7" fill="#000"/>
<rect x="653" y="255" width="3" height="5" fill="#00b050"/>
<rect x="661" y="251" width="1" height="11" fill="#000"/>
<rect x="659" y="256" width="5" height="4" fill="#000"/>
<rect x="660" y="257" width="3" height="2" fill="#ff502d"/>
<rect x="669" y="253" width="1" height="21" fill="#000"/>
<rect x="667" y="260" width="5" height="9" fill="#000"/>
<rect x="668" y="261" width="3" height="7" fill="#ff502d"/>
<rect x="676" y="270" width="1" height="43" fill="#000"/>
<rect x="674" y="270" width="5" height="28" fill="#000"/>
<rect x="675" y="271" width="3" height="26" fill="#ff502d"/>
<rect x="684" y="292" width="1" height="19" fill="#000"/>
<rect x="682" y="295" width="5" height="8" fill="#000"/>
<rect x="683" y="296" width="3" height="6" fill="#00b050"/>
<rect x="691" y="276" width="1" height="22" fill="#000"/>
<rect x="689" y="289" width="5" height="5" fill="#000"/>
<rect x="690" y="290" width="3" height="3" fill="#00b050"/>
<rect x="698" y="288" width="1" height="18" fill="#000"/>
<rect x="696" y="293" width="5" height="3" fill="#000"/>
<rect x="697" y="294" width="3" height="1" fill="#00b050"/>
<rect x="706" y="292" width="1" height="41" fill="#000"/>
<rect x="704" y="293" width="5" height="27" fill="#000"/>
<rect x="705" y="294" width="3" height="25" fill="#ff502d"/>
<rect x="713" y="310" width="1" height="18" fill="#000"/>
<rect x="711" y="318" width="5" height="6" fill="#000"/>
<rect x="712" y="319" width="3" height="4" fill="#00b050"/>
<rect x="721" y="303" width="1" height="44" fill="#000"/>
<rect x="719" y="314" width="5" height="12" fill="#000"/>
<rect x="720" y="315" width="3" height="10" fill="#00b050"/>
<rect x="728" y="310" width="1" height="28" fill="#000"/>
<rect x="726" y="315" width="5" height="12" fill="#000"/>
<rect x="727" y="316" width="3" height="10" fill="#ff502d"/>
<rect x="736" y="312" width="1" height="20" fill="#000"/>
<rect x="734" y="317" width="5" height="9" fill="#000"/>
<rect x="735" y="318" width="3" height="7" fill="#00b050"/>
<rect x="743" y="314" width="1" height="20" fill="#000"/>
<rect x="741" y="318" width="5" height="4" fill="#000"/>
<rect x="742" y="319" width="3" height="2" fill="#ff502d"/>
<rect x="750" y="310" width="1" height="16" fill="#000"/>
<rect x="748" y="323" width="5" height="1" fill="#000"/>
<rect x="758" y="297" width="1" height="41" fill="#000"/>
<rect x="756" y="323" width="5" height="9" fill="#000"/>
<rect x="757" y="324" width="3" height="7" fill="#ff502d"/>
<rect x="765" y="316" width="1" height="21" fill="#000"/>
<rect x="763" y="321" width="5" height="15" fill="#000"/>
<rect x="764" y="322" width="3" height="13" fill="#00b050"/>
<rect x="773" y="312" width="1" height="23" fill="#000"/>
<rect x="771" y="317" width="5" height="10" fill="#000"/>
<rect x="772" y="318" width="3" height="8" fill="#00b050"/>
<rect x="780" y="295" width="1" height="21" fill="#000"/>
<rect x="778" y="304" width="5" height="12" fill="#000"/>
<rect x="779" y="305" width="3" height="10" fill="#00b050"/>
<rect x="787" y="290" width="1" height="17" fill="#000"/>
<rect x="785" y="298" width="5" height="6" fill="#000"/>
<rect x="786" y="299" width="3" height="4" fill="#ff502d"/>
<rect x="795" y="288" width="1" height="20" fill="#000"/>
<rect x="793" y="298" width="5" height="3" fill="#000"/>
<rect x="794" y="299" width="3" height="1" fill="#00b050"/>
<rect x="802" y="291" width="1" height="15" fill="#000"/>
<rect x="800" y="298" width="5" height="3" fill="#000"/>
<rect x="801" y="299" width="3" height="1" fill="#ff502d"/>
<rect x="810" y="302" width="1" height="30" fill="#000"/>
<rect x="808" y="303" width="5" height="23" fill="#000"/>
<rect x="809" y="304" width="3" height="21" fill="#ff502d"/>
<rect x="817" y="326" width="1" height="62" fill="#000"/>
<rect x="815" y="328" width="5" height="51" fill="#000"/>
<rect x="816" y="329" width="3" height="49" fill="#ff502d"/>
<rect x="824" y="361" width="1" height="24" fill="#000"/>
<rect x="822" y="368" width="5" height="7" fill="#000"/>
<rect x="823" y="369" width="3" height="5" fill="#00b050"/>
<rect x="832" y="354" width="1" height="22" fill="#000"/>
<rect x="830" y="361" width="5" height="4" fill="#000"/>
<rect x="831" y="362" width="3" height="2" fill="#00b050"/>
<rect x="839" y="361" width="1" height="34" fill="#000"/>
<rect x="837" y="362" width="5" height="5" fill="#000"/>
<rect x="838" y="363" width="3" height="3" fill="#ff502d"/>
<rect x="847" y="352" width="1" height="51" fill="#000"/>
<rect x="845" y="361" width="5" height="38" fill="#000"/>
<rect x="846" y="362" width="3" height="36" fill="#ff502d"/>
<rect x="854" y="399" width="1" height="53" fill="#000"/>
<rect x="852" y="401" width="5" height="45" fill="#000"/>
<rect x="853" y="402" width="3" height="43" fill="#ff502d"/>
<rect x="861" y="429" width="1" height="38" fill="#000"/>
<rect x="859" y="446" width="5" height="3" fill="#000"/>
<rect x="860" y="447" width="3" height="1" fill="#ff502d"/>
<rect x="869" y="441" width="1" height="21" fill="#000"/>
<rect x="867" y="446" width="5" height="9" fill="#000"/>
<rect x="868" y="447" width="3" height="7" fill="#00b050"/>
<rect x="876" y="447" width="1" height="42" fill="#000"/>
<rect x="874" y="455" width="5" height="18" fill="#000"/>
<rect x="875" y="456" width="3" height="16" fill="#ff502d"/>
<rect x="884" y="449" width="1" height="32" fill="#000"/>
<rect x="882" y="459" width="5" height="14" fill="#000"/>
<rect x="883" y="460" width="3" height="12" fill="#00b050"/>
<rect x="891" y="433" width="1" height="26" fill="#000"/>
<rect x="889" y="438" width="5" height="14" fill="#000"/>
<rect x="890" y="439" width="3" height="12" fill="#00b050"/>
<rect x="898" y="425" width="1" height="27" fill="#000"/>
<rect x="896" y="434" width="5" height="15" fill="#000"/>
<rect x="897" y="435" width="3" height="13" fill="#ff502d"/>
<rect x="906" y="437" width="1" height="17" fill="#000"/>
<rect x="904" y="446" width="5" height="3" fill="#000"/>
<rect x="905" y="447" width="3" height="1" fill="#ff502d"/>
<rect x="913" y="452" width="1" height="35" fill="#000"/>
<rect x="911" y="453" width="5" height="28" fill="#000"/>
<rect x="912" y="454" width="3" height="26" fill="#ff502d"/>
<rect x="921" y="446" width="1" height="38" fill="#000"/>
<rect x="919" y="464" width="5" height="18" fill="#000"/>
<rect x="920" y="465" width="3" height="16" fill="#00b050"/>
<rect x="928" y="453" width="1" height="20" fill="#000"/>
<rect x="926" y="462" width="5" height="3" fill="#000"/>
<rect x="927" y="463" width="3" height="1" fill="#00b050"/>
<rect x="936" y="457" width="1" height="18" fill="#000"/>
<rect x="934" y="462" width="5" height="7" fill="#000"/>
<rect x="935" y="463" width="3" height="5" fill="#ff502d"/>
<rect x="943" y="430" width="1" height="42" fill="#000"/>
<rect x="941" y="437" width="5" height="29" fill="#000"/>
<rect x="942" y="438" width="3" height="27" fill="#00b050"/>
<rect x="950" y="428" width="1" height="18" fill="#000"/>
<rect x="948" y="434" width="5" height="5" fill="#000"/>
<rect x="949" y="435" width="3" height="3" fill="#ff502d"/>
<rect x="958" y="387" width="1" height="45" fill="#000"/>
<rect x="956" y="393" width="5" height="39" fill="#000"/>
<rect x="957" y="394" width="3" height="37" fill="#00b050"/>
<rect x="965" y="378" width="1" height="20" fill="#000"/>
<rect x="963" y="386" width="5" height="3" fill="#000"/>
<rect x="964" y="387" width="3" height="1" fill="#00b050"/>
<rect x="973" y="374" width="1" height="23" fill="#000"/>
<rect x="971" y="379" width="5" height="3" fill="#000"/>
<rect x="972" y="380" width="3" height="1" fill="#00b050"/>
<rect x="980" y="365" width="1" height="25" fill="#000"/>
<rect x="978" y="380" width="5" height="3" fill="#000"/>
<rect x="979" y="381" width="3" height="1" fill="#00b050"/>
<rect x="987" y="349" width="1" height="19" fill="#000"/>
<rect x="985" y="358" width="5" height="7" fill="#000"/>
<rect x="986" y="359" width="3" height="5" fill="#00b050"/>
<rect x="995" y="352" width="1" height="17" fill="#000"/>
<rect x="993" y="356" width="5" height="3" fill="#000"/>
<rect x="994" y="357" width="3" height="1" fill="#00b050"/>
<rect x="1002" y="351" width="1" height="31" fill="#000"/>
<rect x="1000" y="359" width="5" height="12" fill="#000"/>
<rect x="1001" y="360" width="3" height="10" fill="#ff502d"/>
<rect x="1010" y="343" width="1" height="30" fill="#000"/>
<rect x="1008" y="358" width="5" height="3" fill="#000"/>
<rect x="1009" y="359" width="3" height="1" fill="#ff502d"/>
<rect x="1017" y="356" width="1" height="51" fill="#000"/>
<rect x="1015" y="362" width="5" height="42" fill="#000"/>
<rect x="1016" y="363" width="3" height="40" fill="#ff502d"/>
<rect x="1024" y="386" width="1" height="21" fill="#000"/>
<rect x="1022" y="388" width="5" height="13" fill="#000"/>
<rect x="1023" y="389" width="3" height="11" fill="#00b050"/>
<rect x="1032" y="381" width="1" height="23" fill="#000"/>
<rect x="1030" y="384" width="5" height="3" fill="#000"/>
<rect x="1031" y="385" width="3" height="1" fill="#00b050"/>
<rect x="1039" y="371" width="1" height="17" fill="#000"/>
<rect x="1037" y="381" width="5" height="3" fill="#000"/>
<rect x="1038" y="382" width="3" height="1" fill="#ff502d"/>
<rect x="1047" y="361" width="1" height="27" fill="#000"/>
<rect x="1045" y="380" width="5" height="4" fill="#000"/>
<rect x="1046" y="381" width="3" height="2" fill="#00b050"/>
<rect x="1054" y="340" width="1" height="32" fill="#000"/>
<rect x="1052" y="341" width="5" height="31" fill="#000"/>
<rect x="1053" y="342" width="3" height="29" fill="#00b050"/>
<rect x="1061" y="334" width="1" height="11" fill="#000"/>
<rect x="1059" y="341" width="5" height="4" fill="#000"/>
<rect x="1060" y="342" width="3" height="2" fill="#ff502d"/>
<rect x="1069" y="337" width="1" height="12" fill="#000"/>
<rect x="1067" y="341" width="5" height="4" fill="#000"/>
<rect x="1068" y="342" width="3" height="2" fill="#ff502d"/>
<rect x="1076" y="334" width="1" height="26" fill="#000"/>
<rect x="1074" y="345" width="5" height="9" fill="#000"/>
<rect x="1075" y="346" width="3" height="7" fill="#ff502d"/>
<rect x="1084" y="347" width="1" height="45" fill="#000"/>
<rect x="1082" y="359" width="5" height="25" fill="#000"/>
<rect x="1083" y="360" width="3" height="23" fill="#ff502d"/>
<rect x="1091" y="372" width="1" height="33" fill="#000"/>
<rect x="1089" y="385" width="5" height="11" fill="#000"/>
<rect x="1090" y="386" width="3" height="9" fill="#ff502d"/>
<rect x="1098" y="388" width="1" height="37" fill="#000"/>
<rect x="1096" y="399" width="5" height="17" fill="#000"/>
<rect x="1097" y="400" width="3" height="15" fill="#ff502d"/>
</g>
<rect x="652.0" y="244" width="5" height="1.2" fill="#00a845"/><rect x="653.5" y="243.1" width="2" height="1" fill="#00a845" opacity="0.8"/>
<rect x="52.0" y="615.8" width="5" height="1.2" fill="#ff502d"/><rect x="53.5" y="616.9" width="2" height="1" fill="#ff502d" opacity="0.8"/>
<rect x="26" y="808" width="1093" height="7" fill="#f0f0f0"/>
<defs><pattern id="dots" width="4" height="4" patternUnits="userSpaceOnUse"><rect width="4" height="4" fill="#d2d2d2"/><rect x="1" y="1" width="1" height="1" fill="#c2c2c2"/><rect x="3" y="3" width="1" height="1" fill="#c2c2c2"/></pattern></defs><rect x="866" y="808" width="234" height="7" fill="url(#dots)"/>
<rect x="859" y="801" width="7.4" height="14" fill="#666"/><path d="M861.5 804v11M863.5 804v11" stroke="#fff" stroke-width="1" shape-rendering="crispEdges"/>
<rect x="1099.6" y="801" width="7.4" height="14" fill="#666"/><path d="M1102.5 804v11M1104.5 804v11" stroke="#fff" stroke-width="1" shape-rendering="crispEdges"/>
<path d="M980.5 813v2M983 813v2M985.5 813v2" stroke="#666" stroke-width="1"/>
<path d="M36 812.5l-3 2.5h3z" fill="#222"/><path d="M1109.5 812.5l3 2.5h-3z" fill="#222"/>
</svg>
<span class="t" id="t0" style="left:12.30px;top:9.00px;font-size:18.5px;font-weight:700;color:#111;transform:scaleX(1.0318);">Crude Oil WTI Sep '19 (CLU19)</span>
<span class="t" id="t1" style="left:12.80px;top:33.00px;font-size:15.5px;font-weight:700;color:#111;transform:scaleX(0.9589);">55.47</span>
<span class="t" id="t2" style="left:55.00px;top:33.00px;font-size:15.5px;font-weight:700;color:#cc1111;transform:scaleX(1.0161);">-1.45 (-2.55%)</span>
<span class="t" id="t3" style="left:161.00px;top:36.00px;font-size:12px;font-weight:400;color:#666;transform:scaleX(1.0442);">12:53 CT [NYMEX]</span>
<span class="t" id="t4" style="left:15.40px;top:56.00px;font-size:12px;font-weight:400;color:#1a8a3c;transform:scaleX(1.0449);">55.46 x 14</span>
<span class="t" id="t5" style="left:89.70px;top:56.00px;font-size:12px;font-weight:400;color:#c8201e;transform:scaleX(1.0342);">55.47 x 35</span>
<span class="t" id="t6" style="left:12.30px;top:75.00px;font-size:12px;font-weight:700;color:#222;transform:scaleX(1.0254);">INTERACTIVE CHART</span>
<span class="t" id="t7" style="left:146.50px;top:75.00px;font-size:12px;font-weight:400;color:#666;transform:scaleX(1.0872);">for Thu, Jul 18th, 2019</span>
<span class="t" id="t8" style="left:914.00px;top:75.00px;font-size:12px;font-weight:400;color:#2b7de1;transform:scaleX(1.0627);">My Charts</span>
<span class="t" id="t9" style="left:1006.00px;top:75.00px;font-size:12px;font-weight:400;color:#2b7de1;transform:scaleX(1.0856);">Alerts</span>
<span class="t" id="t10" style="left:1070.00px;top:75.00px;font-size:12px;font-weight:400;color:#2b7de1;transform:scaleX(1.0733);">Watch</span>
<span class="t" id="t11" style="left:1137.70px;top:75.00px;font-size:12px;font-weight:400;color:#2b7de1;transform:scaleX(1.0398);">Help</span>
<span class="t" id="t12" style="left:26.40px;top:108.00px;font-size:13px;font-weight:400;color:#444;transform:scaleX(1.0115);">CLU19</span>
<span class="t" id="t13" style="left:114.90px;top:109.00px;font-size:11px;font-weight:700;color:#fff;transform:scaleX(1.1107);">GO</span>
<span class="t" id="t14" style="left:204.20px;top:108.00px;font-size:13px;font-weight:400;color:#2b7de1;transform:scaleX(0.9605);">+Study</span>
<span class="t" id="t15" style="left:263.40px;top:108.00px;font-size:13px;font-weight:400;color:#2b7de1;transform:scaleX(0.9887);">Tools</span>
<span class="t" id="t16" style="left:313.00px;top:108.00px;font-size:13px;font-weight:400;color:#2b7de1;transform:scaleX(0.9879);">Settings</span>
<span class="t" id="t17" style="left:379.90px;top:108.00px;font-size:13px;font-weight:400;color:#2b7de1;transform:scaleX(1.0050);">Compare</span>
<span class="t" id="t18" style="left:452.70px;top:108.00px;font-size:13px;font-weight:400;color:#2b7de1;transform:scaleX(1.0412);">f(x)</span>
<span class="t" id="t19" style="left:966.30px;top:108.00px;font-size:13px;font-weight:400;color:#2b7de1;transform:scaleX(1.0126);">Templates</span>
<span class="t" id="t20" style="left:1044.93px;top:108.00px;font-size:13px;font-weight:400;color:#2b7de1;transform:scaleX(1.0682);">Print</span>
<span class="t" id="t21" style="left:1093.10px;top:108.00px;font-size:13px;font-weight:400;color:#2b7de1;transform:scaleX(0.9547);">Clear</span>
<span class="t" id="t22" style="left:23.60px;top:142.00px;font-size:12px;font-weight:700;color:#222;transform:scaleX(1.0637);">Range:</span>
<span class="t" id="t23" style="left:76.10px;top:142.00px;font-size:12px;font-weight:400;color:#333;transform:scaleX(0.9506);">1D</span>
<span class="t" id="t24" style="left:101.70px;top:142.00px;font-size:12px;font-weight:400;color:#333;transform:scaleX(0.9825);">5D</span>
<span class="t" id="t25" style="left:128.10px;top:142.00px;font-size:12px;font-weight:400;color:#333;transform:scaleX(1.0136);">1M</span>
<span class="t" id="t26" style="left:155.50px;top:142.00px;font-size:12px;font-weight:400;color:#333;transform:scaleX(1.0615);">3M</span>
<span class="t" id="t27" style="left:183.70px;top:142.00px;font-size:12px;font-weight:400;color:#333;transform:scaleX(1.0615);">6M</span>
<span class="t" id="t28" style="left:211.90px;top:142.00px;font-size:12px;font-weight:400;color:#333;transform:scaleX(1.0436);">9M</span>
<span class="t" id="t29" style="left:240.80px;top:142.00px;font-size:12px;font-weight:400;color:#333;transform:scaleX(0.9132);">1Y</span>
<span class="t" id="t30" style="left:265.20px;top:142.00px;font-size:12px;font-weight:700;color:#2b7de1;transform:scaleX(1.0359);">2Y</span>
<span class="t" id="t31" style="left:291.00px;top:142.00px;font-size:12px;font-weight:400;color:#333;transform:scaleX(0.8859);">3Y</span>
<span class="t" id="t32" style="left:316.00px;top:142.00px;font-size:12px;font-weight:400;color:#333;transform:scaleX(0.9132);">5Y</span>
<span class="t" id="t33" style="left:340.70px;top:142.00px;font-size:12px;font-weight:400;color:#333;transform:scaleX(0.9041);">10Y</span>
<span class="t" id="t34" style="left:371.40px;top:142.00px;font-size:12px;font-weight:400;color:#333;transform:scaleX(0.9509);">20Y</span>
<span class="t" id="t35" style="left:402.40px;top:142.00px;font-size:12px;font-weight:400;color:#333;transform:scaleX(0.9962);">MAX</span>
<span class="t" id="t36" style="left:445.70px;top:142.00px;font-size:12px;font-weight:700;color:#222;transform:scaleX(1.0740);">Frequency:</span>
<span class="t" id="t37" style="left:523.80px;top:142.00px;font-size:12px;font-weight:400;color:#333;transform:scaleX(1.0890);">Daily Nearby</span>
<span class="t" id="t38" style="left:643.70px;top:142.00px;font-size:12px;font-weight:400;color:#333;transform:scaleX(0.8859);">2Y</span>
<span class="t" id="t39" style="left:700.70px;top:142.00px;font-size:12px;font-weight:700;color:#222;transform:scaleX(1.1169);">Date:</span>
<span class="t" id="t40" style="left:23.00px;top:172.00px;font-size:14px;font-weight:700;color:#111;transform:scaleX(0.9903);">CLQ19</span>
<span class="t" id="t41" style="left:71.70px;top:174.00px;font-size:12px;font-weight:400;color:#333;transform:scaleX(1.1245);">07/18/2019</span>
<span class="t" id="t42" style="left:144.00px;top:174.00px;font-size:12px;font-weight:700;color:#222;transform:scaleX(1.0378);">O:</span>
<span class="t" id="t43" style="left:161.40px;top:174.00px;font-size:12px;font-weight:400;color:#333;transform:scaleX(1.0146);">56.60</span>
<span class="t" id="t44" style="left:197.30px;top:174.00px;font-size:12px;font-weight:700;color:#222;transform:scaleX(1.1401);">H:</span>
<span class="t" id="t45" style="left:214.70px;top:174.00px;font-size:12px;font-weight:400;color:#333;transform:scaleX(1.0146);">57.32</span>
<span class="t" id="t46" style="left:249.80px;top:174.00px;font-size:12px;font-weight:700;color:#222;transform:scaleX(1.0649);">L:</span>
<span class="t" id="t47" style="left:265.20px;top:174.00px;font-size:12px;font-weight:400;color:#333;transform:scaleX(1.0113);">54.85</span>
<span class="t" id="t48" style="left:300.70px;top:174.00px;font-size:12px;font-weight:700;color:#222;transform:scaleX(0.9429);">C:</span>
<span class="t" id="t49" style="left:316.10px;top:174.00px;font-size:12px;font-weight:400;color:#333;transform:scaleX(1.0212);">55.46</span>
<span class="t" id="t50" style="left:352.20px;top:174.00px;font-size:12px;font-weight:700;color:#222;transform:scaleX(0.9978);">Δ:</span>
<span class="t" id="t51" style="left:368.60px;top:174.00px;font-size:12px;font-weight:400;color:#333;transform:scaleX(0.9827);">-1.32</span>
<span class="t" id="t52" style="left:37.50px;top:208.00px;font-size:17.5px;font-weight:400;color:#8e8e8e;transform:scaleX(1.0493);">Crude Oil WTI Sep '19 (CLU19) - Barchart.com</span>
<span class="t" id="t53" style="left:1133.80px;top:267.00px;font-size:12px;font-weight:400;color:#666;transform:scaleX(0.9455);">65.00</span>
<span class="t" id="t54" style="left:1133.80px;top:343.00px;font-size:12px;font-weight:400;color:#666;transform:scaleX(0.9455);">60.00</span>
<span class="t" id="t55" style="left:1133.80px;top:418.00px;font-size:12px;font-weight:400;color:#666;transform:scaleX(0.9455);">55.00</span>
<span class="t" id="t56" style="left:1133.80px;top:493.00px;font-size:12px;font-weight:400;color:#666;transform:scaleX(0.9455);">50.00</span>
<span class="t" id="t57" style="left:1133.80px;top:569.00px;font-size:12px;font-weight:400;color:#666;transform:scaleX(0.9455);">45.00</span>
<span class="t" id="t58" style="left:1133.80px;top:644.00px;font-size:12px;font-weight:400;color:#666;transform:scaleX(0.9455);">40.00</span>
<span class="t" id="t59" style="left:1129.50px;top:731.00px;font-size:12px;font-weight:400;color:#666;transform:scaleX(0.9893);">1.00M</span>
<span class="t" id="t60" style="left:68.15px;top:787.00px;font-size:11px;font-weight:400;color:#666;transform:scaleX(0.9414);">Dec 31</span>
<span class="t" id="t61" style="left:134.75px;top:787.00px;font-size:11px;font-weight:400;color:#666;transform:scaleX(0.9572);">Jan 14</span>
<span class="t" id="t62" style="left:201.75px;top:787.00px;font-size:11px;font-weight:400;color:#666;transform:scaleX(0.9572);">Jan 28</span>
<span class="t" id="t63" style="left:275.50px;top:787.00px;font-size:11px;font-weight:400;color:#666;transform:scaleX(0.9606);">Feb 11</span>
<span class="t" id="t64" style="left:342.20px;top:787.00px;font-size:11px;font-weight:400;color:#666;transform:scaleX(0.9552);">Feb 25</span>
<span class="t" id="t65" style="left:416.00px;top:787.00px;font-size:11px;font-weight:400;color:#666;transform:scaleX(0.9910);">Mar 11</span>
<span class="t" id="t66" style="left:489.70px;top:787.00px;font-size:11px;font-weight:400;color:#666;transform:scaleX(0.9848);">Mar 25</span>
<span class="t" id="t67" style="left:567.30px;top:787.00px;font-size:11px;font-weight:400;color:#666;transform:scaleX(1.0086);">Apr 8</span>
<span class="t" id="t68" style="left:631.00px;top:787.00px;font-size:11px;font-weight:400;color:#666;transform:scaleX(1.0219);">Apr 22</span>
<span class="t" id="t69" style="left:707.70px;top:787.00px;font-size:11px;font-weight:400;color:#666;transform:scaleX(0.9250);">May 6</span>
<span class="t" id="t70" style="left:777.20px;top:787.00px;font-size:11px;font-weight:400;color:#666;transform:scaleX(1.0180);">May 20</span>
<span class="t" id="t71" style="left:848.70px;top:787.00px;font-size:11px;font-weight:400;color:#666;transform:scaleX(0.9555);">Jun 3</span>
<span class="t" id="t72" style="left:920.80px;top:787.00px;font-size:11px;font-weight:400;color:#666;transform:scaleX(0.9541);">Jun 17</span>
<span class="t" id="t73" style="left:1000.25px;top:787.00px;font-size:11px;font-weight:400;color:#666;transform:scaleX(0.8868);">Jul 1</span>
<span class="t" id="t74" style="left:1062.50px;top:787.00px;font-size:11px;font-weight:400;color:#666;transform:scaleX(0.9577);">Jul 15</span>
<svg width="1171" height="815" viewBox="0 0 1171 815">
<path d="M1127.3 363.3L1132.2 355.0H1165.3V371.6H1132.2Z" fill="#1f3ff0"/>
<path d="M1127.3 380.4L1132.2 372.1H1165.3V388.7H1132.2Z" fill="#e8432c"/>
<path d="M1127.3 416.4L1132.2 408.1H1165.3V424.7H1132.2Z" fill="#e8432c"/>
<path d="M1122.8 691.0L1127.9 682.7H1165.3V699.3H1127.9Z" fill="#b63dcc"/>
<path d="M1122.8 777.3L1127.9 769.0H1165.3V785.6H1127.9Z" fill="#e8432c"/>
</svg>
<span class="t" id="t75" style="left:1133.60px;top:358.00px;font-size:12px;font-weight:400;color:#fff;transform:scaleX(0.9488);-webkit-text-stroke:0.45px #fff;">58.99</span>
<span class="t" id="t76" style="left:1133.60px;top:375.00px;font-size:12px;font-weight:400;color:#fff;transform:scaleX(0.9488);-webkit-text-stroke:0.45px #fff;">57.86</span>
<span class="t" id="t77" style="left:1133.60px;top:411.00px;font-size:12px;font-weight:400;color:#fff;transform:scaleX(0.9488);-webkit-text-stroke:0.45px #fff;">55.46</span>
<span class="t" id="t78" style="left:1129.40px;top:686.00px;font-size:12px;font-weight:400;color:#fff;transform:scaleX(0.9893);-webkit-text-stroke:0.45px #fff;">2.09M</span>
<span class="t" id="t79" style="left:1129.40px;top:772.00px;font-size:12px;font-weight:400;color:#fff;transform:scaleX(0.9893);-webkit-text-stroke:0.45px #fff;">0.00M</span>
</div></body></html>
